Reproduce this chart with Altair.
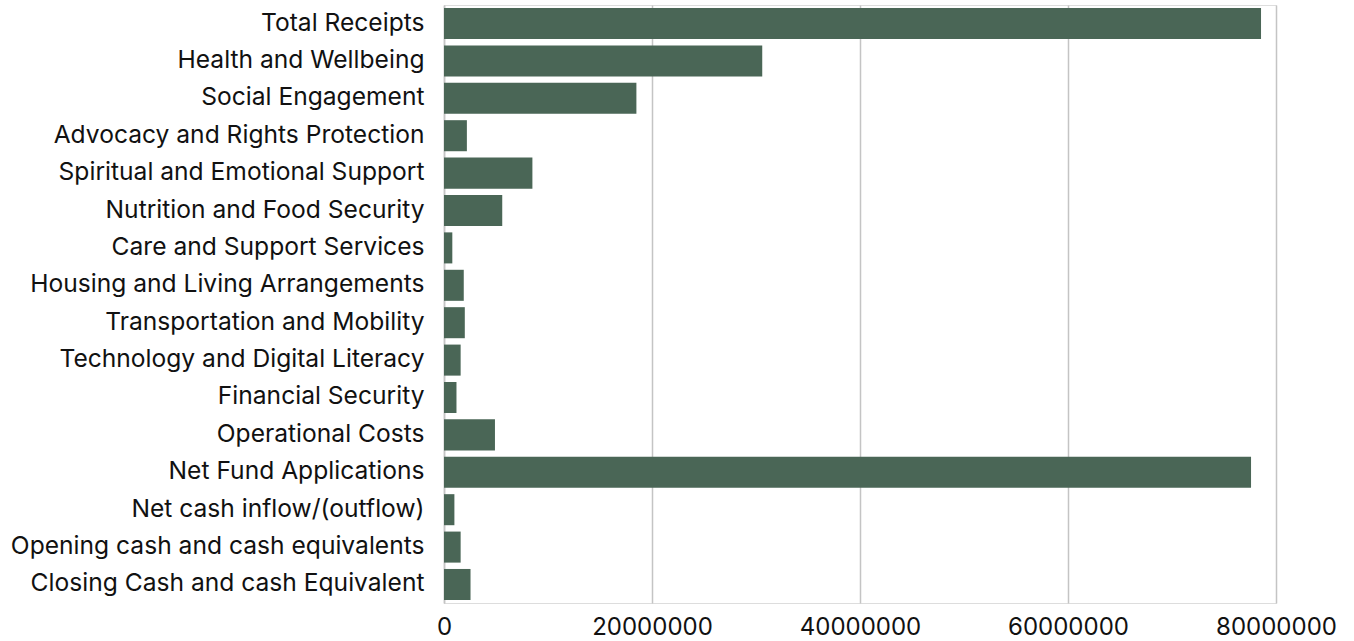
import altair as alt
import pandas as pd

categories = [
    "Total Receipts",
    "Health and Wellbeing",
    "Social Engagement",
    "Advocacy and Rights Protection",
    "Spiritual and Emotional Support",
    "Nutrition and Food Security",
    "Care and Support Services",
    "Housing and Living Arrangements",
    "Transportation and Mobility",
    "Technology and Digital Literacy",
    "Financial Security",
    "Operational Costs",
    "Net Fund Applications",
    "Net cash inflow/(outflow)",
    "Opening cash and cash equivalents",
    "Closing Cash and cash Equivalent",
]
values = [
    78560000, 30600000, 18500000, 2200000, 8500000, 5600000, 800000, 1900000,
    2000000, 1600000, 1200000, 4900000, 77600000, 1000000, 1600000, 2550000,
]
x_ticks = [0, 20000000, 40000000, 60000000, 80000000]

df = pd.DataFrame({"category": categories, "value": values})

FONT = "Inter"

chart = (
    alt.Chart(df)
    .mark_bar(color="#4a6656")
    .encode(
        x=alt.X(
            "value:Q",
            scale=alt.Scale(domain=[0, 80000000], nice=False),
            axis=alt.Axis(
                values=x_ticks,
                format="d",
                title=None,
                grid=True,
                gridColor="#c4c4c4",
                gridWidth=1.5,
                domain=False,
                ticks=False,
                labelFont=FONT,
                labelFontSize=24,
                labelColor="#111111",
                labelPadding=12,
                labelFlush=False,
            ),
        ),
        y=alt.Y(
            "category:N",
            sort=categories,
            scale=alt.Scale(paddingInner=0.17, paddingOuter=0.08),
            axis=alt.Axis(
                title=None,
                domain=True,
                domainColor="#c4c4c4",
                domainWidth=1.5,
                ticks=False,
                grid=False,
                labelFont=FONT,
                labelFontSize=24.6,
                labelColor="#111111",
                labelPadding=20,
                labelLimit=0,
            ),
        ),
    )
    .properties(
        width=832,
        height=598,
        autosize=alt.AutoSizeParams(type="none"),
        padding={"left": 444, "top": 5, "right": 78, "bottom": 38},
    )
    .configure_view(stroke=None)
    .configure(background="white")
)

chart.save("out.html", embed_options={"renderer": "svg", "actions": False})
